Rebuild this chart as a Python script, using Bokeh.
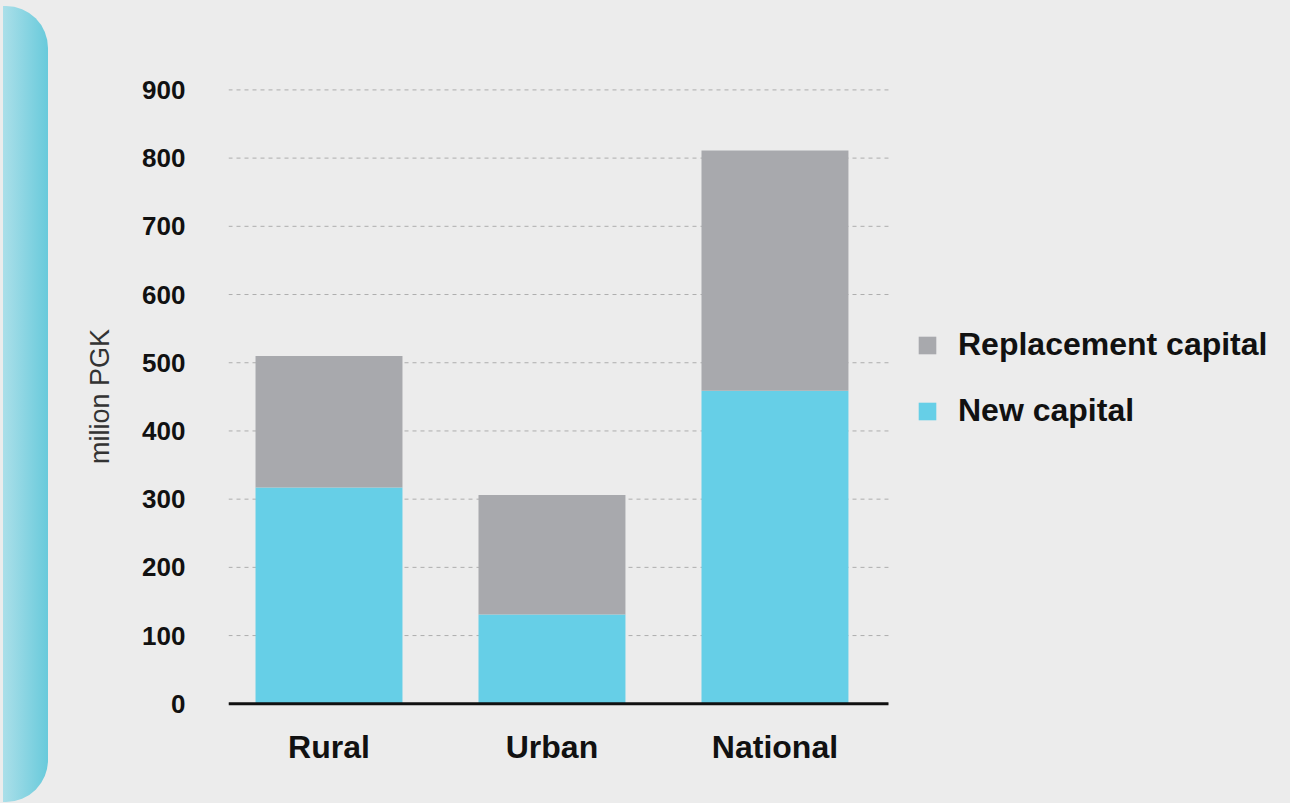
from bokeh.plotting import figure
from bokeh.models import ColumnDataSource, Range1d, FixedTicker, Legend, LegendItem, Div
from bokeh.layouts import row
from bokeh.embed import file_html
from bokeh.resources import INLINE

categories = ["Rural", "Urban", "National"]
new_capital = [317, 131, 459]
replacement_capital = [193, 175, 352]
y_ticks = [0, 100, 200, 300, 400, 500, 600, 700, 800, 900]
series_names = ["Replacement capital", "New capital"]

BG = "#ececec"
BLUE = "#66cfe7"
GRAY = "#a8a9ad"
FONT = "Liberation Sans"

X0, X1 = -0.4507, 2.509      # extent of the plotted axis area (data units)
XEND = 4.312                  # frame extends to the right to host the legend

source = ColumnDataSource(dict(
    x=list(range(len(categories))),
    new=new_capital,
    rep=replacement_capital,
))

p = figure(width=1242, height=803, output_backend="svg", toolbar_location=None,
           x_range=Range1d(X0, XEND), y_range=Range1d(-4, 905),
           min_border_left=180, min_border_right=0, min_border_top=86,
           min_border_bottom=97, background_fill_color=BG, border_fill_color=BG,
           outline_line_color=None)

# dashed grid lines limited to the axis area
grid_src = ColumnDataSource(dict(x0=[X0] * len(y_ticks), x1=[X1] * len(y_ticks),
                                 y=y_ticks))
p.segment(x0="x0", y0="y", x1="x1", y1="y", source=grid_src,
          line_color="#adadad", line_dash="4 4", line_width=1)

r_new, r_rep = p.vbar_stack(["new", "rep"], x="x", width=0.659, source=source,
                            color=[BLUE, GRAY], line_color=None)

# baseline
p.segment(x0=[X0], y0=[0], x1=[X1], y1=[0], line_color="#111111", line_width=3)

# axes
p.xaxis.ticker = FixedTicker(ticks=list(range(len(categories))))
p.xaxis.major_label_overrides = {i: c for i, c in enumerate(categories)}
p.xaxis.major_label_text_font = FONT
p.xaxis.major_label_text_font_style = "bold"
p.xaxis.major_label_text_font_size = "32px"
p.xaxis.major_label_text_color = "#111111"
p.xaxis.major_label_standoff = 16
p.xaxis.axis_line_color = None
p.xaxis.major_tick_line_color = None
p.xaxis.minor_tick_line_color = None

p.yaxis.ticker = FixedTicker(ticks=y_ticks)
p.yaxis.major_label_text_font = FONT
p.yaxis.major_label_text_font_style = "bold"
p.yaxis.major_label_text_font_size = "26px"
p.yaxis.major_label_text_color = "#111111"
p.yaxis.major_label_standoff = 37
p.yaxis.axis_line_color = None
p.yaxis.major_tick_line_color = None
p.yaxis.minor_tick_line_color = None
p.yaxis.axis_label = "milion PGK"
p.yaxis.axis_label_text_font = FONT
p.yaxis.axis_label_text_font_style = "normal"
p.yaxis.axis_label_text_font_size = "27px"
p.yaxis.axis_label_text_color = "#333333"
p.yaxis.axis_label_standoff = 24

p.xgrid.grid_line_color = None
p.ygrid.grid_line_color = None

legend = Legend(items=[LegendItem(label=series_names[0], renderers=[r_rep]),
                       LegendItem(label=series_names[1], renderers=[r_new])],
                location=(688, 277))
legend.label_text_font = FONT
legend.label_text_font_style = "bold"
legend.label_text_font_size = "32px"
legend.label_text_color = "#111111"
legend.glyph_width = 22
legend.glyph_height = 22
legend.label_standoff = 20
legend.spacing = 29
legend.padding = 0
legend.margin = 0
legend.border_line_color = None
legend.background_fill_alpha = 0
p.add_layout(legend, "center")

deco = Div(text='<div style="width:45px;height:796px;margin:6px 0 0 3px;'
                'background:linear-gradient(to right,#abdfe9,#68cadb);'
                'border-radius:0 42px 42px 0;"></div>',
           width=48, height=803, styles={"background-color": BG, "margin": "0", "padding": "0"})

layout = row(deco, p, spacing=0, styles={"background-color": BG})

open("out.html", "w").write(file_html(layout, INLINE))
